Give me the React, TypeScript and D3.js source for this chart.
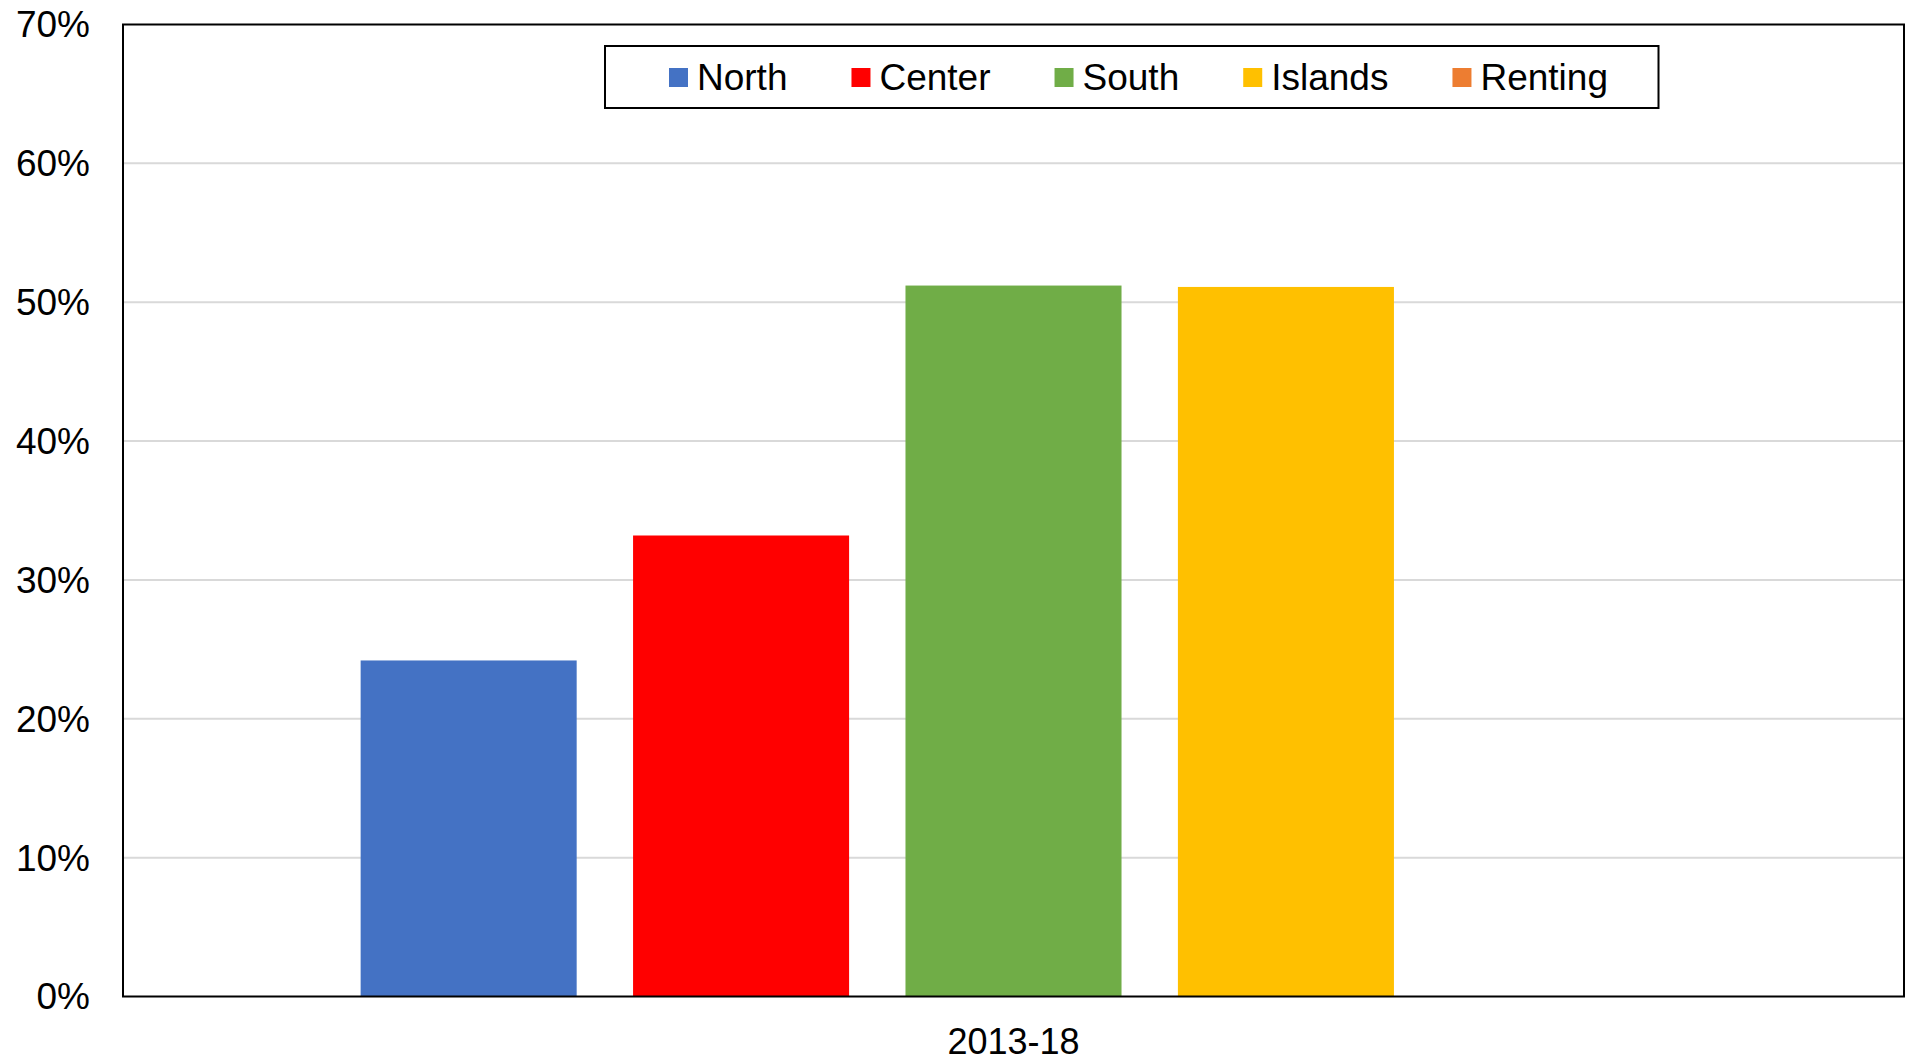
import React from "react";
import * as d3 from "d3";

const categories = ["2013-18"];
const seriesNames = ["North", "Center", "South", "Islands", "Renting"];
const seriesColors = ["#4472C4", "#FF0000", "#70AD47", "#FFC000", "#ED7D31"];
const seriesValues = [0.242, 0.332, 0.512, 0.511, 0];
const yTicks = [0, 0.1, 0.2, 0.3, 0.4, 0.5, 0.6, 0.7];

const W = 1908;
const H = 1059;
const FONT = "'Liberation Sans', Arial, sans-serif";

function textWidth(t: string, size: number) {
  if (typeof document === "undefined") return t.length * size * 0.55;
  const c = document.createElement("canvas").getContext("2d");
  if (!c) return t.length * size * 0.55;
  c.font = `${size}px ${FONT}`;
  return c.measureText(t).width;
}

export default function App() {
  const left = 123;
  const right = 1904;
  const top = 24.5;
  const bottom = 996.5;

  const y = d3.scaleLinear().domain([0, 0.7]).range([bottom, top]);
  const x0 = d3
    .scaleBand<string>()
    .domain(categories)
    .range([left, right])
    .paddingInner(0)
    .paddingOuter(0.182);
  const x1 = d3
    .scaleBand<string>()
    .domain(seriesNames)
    .range([0, x0.bandwidth()])
    .paddingInner(0.207)
    .paddingOuter(0);

  const fs = 37;
  const legendFs = 37;
  const marker = 19;
  const mGap = 9;
  const itemGap = 64;
  let cx = 669;
  const legendItems = seriesNames.map((n, i) => {
    const item = { name: n, color: seriesColors[i], x: cx };
    cx += marker + mGap + textWidth(n, legendFs) + itemGap;
    return item;
  });
  const legendY = 77.5;

  return (
    <svg
      width={W}
      height={H}
      style={{ position: "absolute", left: 0, top: 0, background: "#fff" }}
      fontFamily={FONT}
    >
      <rect x={0} y={0} width={W} height={H} fill="#fff" />
      {yTicks
        .filter((t) => t > 0 && t < 0.7)
        .map((t) => (
          <line
            key={t}
            x1={left}
            x2={right}
            y1={y(t)}
            y2={y(t)}
            stroke="#d9d9d9"
            strokeWidth={2}
          />
        ))}
      {categories.map((c) =>
        seriesNames.map((s, i) => {
          const v = seriesValues[i];
          const bx = (x0(c) ?? 0) + (x1(s) ?? 0);
          return (
            <rect
              key={c + s}
              x={bx}
              y={y(v)}
              width={x1.bandwidth()}
              height={bottom - y(v)}
              fill={seriesColors[i]}
            />
          );
        })
      )}
      <rect
        x={left}
        y={top}
        width={right - left}
        height={bottom - top}
        fill="none"
        stroke="#000"
        strokeWidth={2}
      />
      {yTicks.map((t) => (
        <text
          key={t}
          x={90}
          y={y(t)}
          dy="0.35em"
          textAnchor="end"
          fontSize={fs}
          fill="#000"
        >
          {d3.format(".0%")(t)}
        </text>
      ))}
      {categories.map((c) => (
        <text
          key={c}
          x={(x0(c) ?? 0) + x0.bandwidth() / 2}
          y={1041}
          dy="0.35em"
          textAnchor="middle"
          fontSize={36}
          fill="#000"
        >
          {c}
        </text>
      ))}
      <rect
        x={605}
        y={46}
        width={1053.5}
        height={62}
        fill="#fff"
        stroke="#000"
        strokeWidth={2}
      />
      {legendItems.map((it) => (
        <g key={it.name}>
          <rect
            x={it.x}
            y={legendY - marker / 2}
            width={marker}
            height={marker}
            fill={it.color}
          />
          <text
            x={it.x + marker + mGap}
            y={legendY}
            dy="0.35em"
            fontSize={legendFs}
            fill="#000"
          >
            {it.name}
          </text>
        </g>
      ))}
    </svg>
  );
}
